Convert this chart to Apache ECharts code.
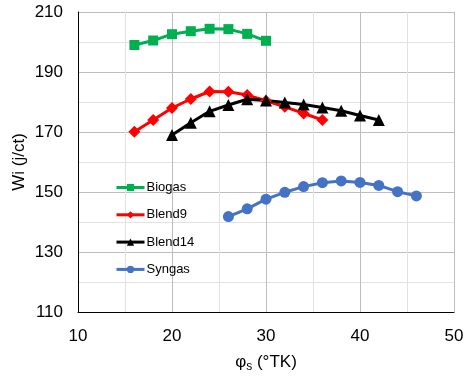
<!DOCTYPE html>
<html>
<head>
<meta charset="utf-8">
<script src="https://cdn.jsdelivr.net/npm/echarts@6/dist/echarts.min.js"></script>
<style>
  html, body { margin: 0; padding: 0; background: #fff; }
  #chart { width: 471px; height: 376px; }
</style>
</head>
<body>
<div id="chart"></div>
<script>
// data
var biogasX = [16, 18, 20, 22, 24, 26, 28, 30];
var biogasY = [199, 200.5, 202.6, 203.6, 204.4, 204.3, 202.7, 200.4];

var blend9X = [16, 18, 20, 22, 24, 26, 28, 30, 32, 34, 36];
var blend9Y = [170.1, 174, 178, 181, 183.5, 183.4, 182.3, 180.4, 178.4, 176.2, 174];

var blend14X = [20, 22, 24, 26, 28, 30, 32, 34, 36, 38, 40, 42];
var blend14Y = [169, 173.1, 176.9, 179, 180.9, 180.5, 179.8, 179.2, 178.2, 177.1, 175.5, 174];

var syngasX = [26, 28, 30, 32, 34, 36, 38, 40, 42, 44, 46];
var syngasY = [141.8, 144.4, 147.6, 149.9, 151.8, 153.1, 153.7, 153.2, 152.2, 150.1, 148.7];

var seriesNames = ['Biogas', 'Blend9', 'Blend14', 'Syngas'];

function pairs(xs, ys) {
  var out = [];
  for (var i = 0; i < xs.length; i++) out.push([xs[i], ys[i]]);
  return out;
}

var font = 'Liberation Sans, Arial, sans-serif';

function lineSeries(name, data, color, symbol, size) {
  return {
    name: name,
    type: 'line',
    data: data,
    symbol: symbol,
    symbolSize: size,
    lineStyle: { color: color, width: 3 },
    itemStyle: { color: color },
    animation: false
  };
}

const chart = echarts.init(document.getElementById('chart'));
var option = {
  backgroundColor: '#fff',
  textStyle: { fontFamily: font },
  grid: {
    left: 78,
    right: 17,
    top: 12,
    bottom: 64,
    containLabel: false,
    outerBoundsMode: 'none'
  },
  legend: {
    orient: 'vertical',
    left: 110,
    top: 176,
    itemWidth: 28,
    itemHeight: 9,
    itemGap: 14.3,
    lineStyle: { width: 3 },
    textStyle: { fontSize: 13, color: '#000', fontFamily: font, padding: [0, 0, 0, -3] },
    data: seriesNames
  },
  xAxis: {
    type: 'value',
    min: 10,
    max: 50,
    interval: 10,
    name: '{a|φ}{s|s}{a| (°TK)}',
    nameLocation: 'middle',
    nameGap: 40,
    nameTextStyle: {
      rich: {
        a: { fontSize: 17, color: '#000', fontFamily: font },
        s: { fontSize: 12, color: '#000', fontFamily: font, verticalAlign: 'bottom', padding: [9, 0, 0, 0] }
      }
    },
    axisLine: { onZero: false, lineStyle: { color: '#000', width: 1 } },
    axisTick: { show: false },
    axisLabel: { fontSize: 17, color: '#000', margin: 16, fontFamily: font },
    splitLine: { show: true, lineStyle: { color: '#bdbdbd', width: 1 } },
    minorTick: { show: false, splitNumber: 2 },
    minorSplitLine: { show: true, lineStyle: { color: '#e2e2e2', width: 1 } }
  },
  yAxis: {
    type: 'value',
    min: 110,
    max: 210,
    interval: 20,
    name: 'Wi (j/ct)',
    nameLocation: 'middle',
    nameGap: 50,
    nameMoveOverlap: false,
    nameTextStyle: { fontSize: 17, color: '#000', fontFamily: font },
    axisLine: { show: true, onZero: false, lineStyle: { color: '#000', width: 1 } },
    axisTick: { show: false },
    axisLabel: { fontSize: 17, color: '#000', margin: 15, fontFamily: font },
    splitLine: { show: true, lineStyle: { color: '#bdbdbd', width: 1 } },
    minorTick: { show: false, splitNumber: 2 },
    minorSplitLine: { show: true, lineStyle: { color: '#e2e2e2', width: 1 } }
  },
  series: [
    lineSeries('Biogas', pairs(biogasX, biogasY), '#00B050', 'rect', 10),
    lineSeries('Blend9', pairs(blend9X, blend9Y), '#FF0000', 'diamond', 12),
    lineSeries('Blend14', pairs(blend14X, blend14Y), '#000000', 'triangle', 12),
    lineSeries('Syngas', pairs(syngasX, syngasY), '#4472C4', 'circle', 11)
  ]
};
chart.setOption(option);
</script>
</body>
</html>
